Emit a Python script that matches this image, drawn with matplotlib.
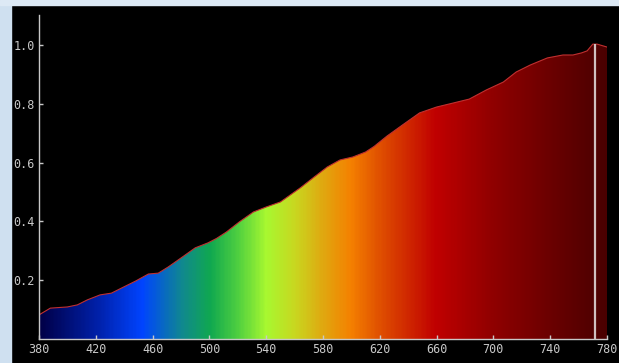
import matplotlib
matplotlib.use('Agg')
import matplotlib.pyplot as plt
import numpy as np
from matplotlib.colors import LinearSegmentedColormap
from matplotlib.patches import Rectangle

# spectrum curve
wavelength = [380, 388, 400, 407, 414, 423, 431, 438, 448, 457, 464, 471, 481, 490,
              499, 505, 512, 521, 531, 540, 550, 557, 564, 573, 583, 592, 601, 610,
              616, 625, 636, 648, 660, 672, 683, 695, 707, 716, 726, 738, 749, 756,
              762, 766, 770, 773, 780]
intensity = [0.082, 0.105, 0.109, 0.116, 0.133, 0.150, 0.156, 0.173, 0.197, 0.221,
             0.224, 0.245, 0.279, 0.310, 0.327, 0.342, 0.364, 0.398, 0.432, 0.449,
             0.466, 0.490, 0.514, 0.548, 0.585, 0.609, 0.619, 0.636, 0.655, 0.690,
             0.728, 0.769, 0.789, 0.803, 0.816, 0.847, 0.874, 0.908, 0.932, 0.956,
             0.966, 0.966, 0.973, 0.980, 1.003, 1.003, 0.993]
marker_wl = 771.5

x_ticks = [380, 420, 460, 500, 540, 580, 620, 660, 700, 740, 780]
y_ticks = [0.2, 0.4, 0.6, 0.8, 1.0]

# colour along the wavelength axis
spec_wl = [380, 420, 452, 480, 500, 520, 540, 560, 580, 600, 620, 640, 660, 700, 740, 780]
spec_col = ['#000048', '#0020a8', '#0044ff', '#108890', '#10a850', '#50d040', '#a8f830',
            '#c8d820', '#e0a810', '#f58000', '#e05000', '#d02800', '#c00000', '#900000',
            '#6c0000', '#4a0000']
cmap = LinearSegmentedColormap.from_list(
    'spec', [((w - 380) / 400, c) for w, c in zip(spec_wl, spec_col)])

fig = plt.figure(figsize=(6.19, 3.63), dpi=100, facecolor='black')
# strips of desktop showing around the black panel
fig.patches.append(Rectangle((0, 0), 11 / 619, 1, transform=fig.transFigure,
                             color='#cfe0f0', zorder=0))
fig.patches.append(Rectangle((0, 1 - 5 / 363), 1, 5 / 363, transform=fig.transFigure,
                             color='#dde9f5', zorder=0))

ax = fig.add_axes([39 / 619, 24 / 363, 568 / 619, 324 / 363])
ax.set_facecolor('black')

x = np.array(wavelength)
y = np.array(intensity)
poly = ax.fill_between(x, 0, y, color='none', lw=0)
grad = np.linspace(0, 1, 400).reshape(1, -1)
img = ax.imshow(grad, cmap=cmap, aspect='auto', extent=[380, 780, 0, 1.1],
                interpolation='bilinear', zorder=1)
img.set_clip_path(poly.get_paths()[0], transform=ax.transData)
ax.plot(x, y, color='#c03030', lw=0.8, zorder=2)
ax.vlines(marker_wl, 0, np.interp(marker_wl, x, y), color='#d0c0c0', lw=1.6, zorder=3)

ax.set_xlim(380, 780)
ax.set_ylim(0, 1.102)
ax.set_xticks(x_ticks)
ax.set_yticks(y_ticks)
ax.set_yticklabels([f'{v:.1f}' for v in y_ticks])
for s in ['top', 'right']:
    ax.spines[s].set_visible(False)
for s in ['left', 'bottom']:
    ax.spines[s].set_color('#c8c8c8')
    ax.spines[s].set_linewidth(1.0)
ax.tick_params(direction='in', length=3, width=1, color='#c8c8c8',
               labelcolor='#c8c8c8', labelsize=8.5, pad=3)
for lab in ax.get_xticklabels() + ax.get_yticklabels():
    lab.set_family('DejaVu Sans Mono')

fig.savefig('out.png', dpi=100, facecolor=fig.get_facecolor())
